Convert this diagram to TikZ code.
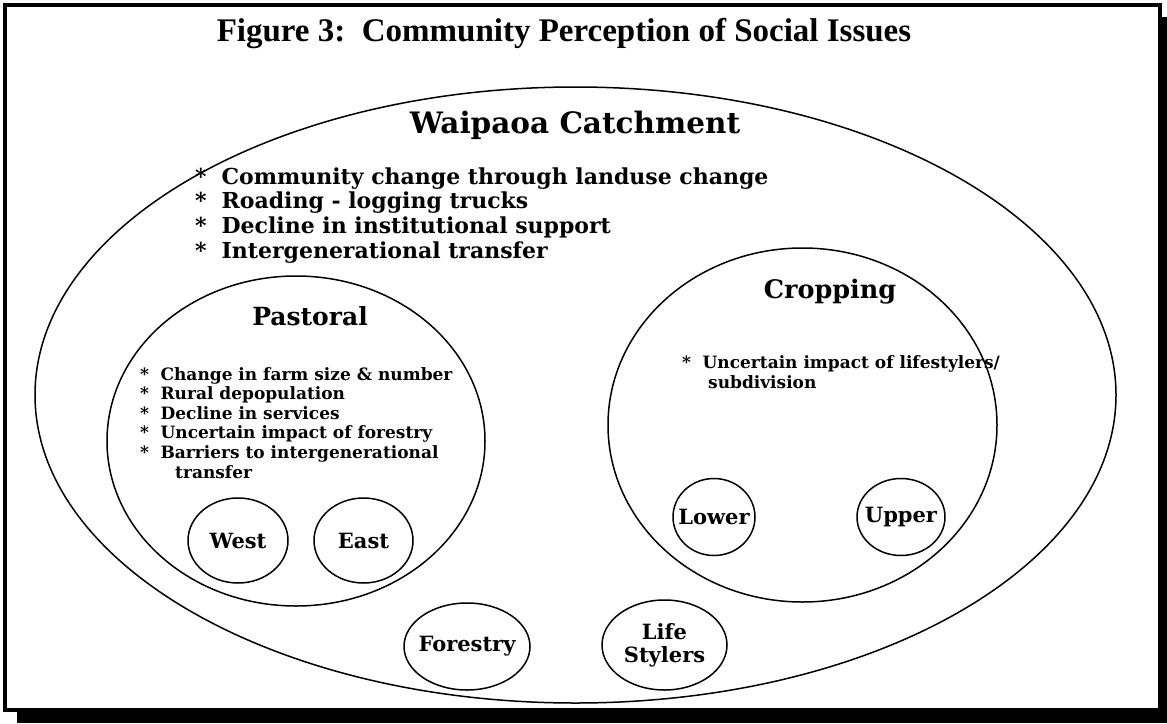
\documentclass[tikz,border=0pt]{standalone}
\usepackage{fontspec}
\usepackage{tikz}
\usetikzlibrary{shapes.geometric}

% Times-like heading, wide serif for everything inside the frame
\newfontfamily\headfont{Liberation Serif}
\newfontfamily\bodyfont{DejaVu Serif}
\newcommand{\bul}{\makebox[1.2em][l]{*}}

\begin{document}
\begin{tikzpicture} [x=1pt, y=-1pt,
  ring/.style={draw, ellipse, line width=1.5pt, inner sep=0pt},
  grouptext/.style={font=\bodyfont\bfseries\fontsize{21}{23}\selectfont, align=center},
  area/.style={ring, label={[grouptext]center:#1}},
  head/.style={anchor=base, font=\bodyfont\bfseries\fontsize{#1}{#1}\selectfont},
  issue/.style={anchor=base west, inner sep=0pt, font=\bodyfont\bfseries\fontsize{#1}{#1}\selectfont}]

\useasboundingbox (0,0) rectangle (1167,723);

% shadow and frame
\fill (17,17) rectangle (1167,723);
\draw [line width=4pt, fill=white] (5,5) rectangle (1160,710);

\node [anchor=base, font=\headfont\bfseries\fontsize{33}{33}\selectfont] (heading) at (564,41)
  {Figure 3:\ \ Community Perception of Social Issues};

% the catchment and its two land uses
\node [ring, minimum width=1081pt, minimum height=616pt] (catchment) at (575.5,395) {};
\node [ring, minimum width=378pt, minimum height=330pt] (pastoral) at (296,441) {};
\node [ring, minimum width=389pt, minimum height=354pt] (cropping) at (802.5,425) {};

\node [head=29.5] (catchment title) at (575,133) {Waipaoa Catchment};
\node [head=25] (pastoral title) at (310,325) {Pastoral};
\node [head=25.5] (cropping title) at (830,298) {Cropping};

\foreach \txt [count=\i] in {Community change through landuse change,
    Roading - logging trucks, Decline in institutional support,
    Intergenerational transfer}
  \node [issue=22] (catch\i) at (195,{184+24.7*(\i-1)}) {\bul\txt};

\foreach \txt [count=\i] in {Change in farm size \& number, Rural depopulation,
    Decline in services, Uncertain impact of forestry,
    Barriers to intergenerational}
  \node [issue=17] (past\i) at (140,{380+19.6*(\i-1)}) {\bul\txt};
\node [issue=17] (past6) at (175,478) {transfer};

\node [issue=17] (crop1) at (682,368) {\bul Uncertain impact of lifestylers/};
\node [issue=17] (crop2) at (708,388) {subdivision};

% districts and other groups
\node [area=West, minimum width=100pt, minimum height=85pt] (west) at (238,540.5) {};
\node [area=East, minimum width=99pt, minimum height=85pt] (east) at (363.5,540.5) {};
\node [area=Lower, minimum width=82pt, minimum height=77pt] (lower) at (714,517) {};
\node [area=Upper, minimum width=88pt, minimum height=77pt] (upper) at (901,517) {};
\node [area=Forestry, minimum width=126pt, minimum height=87pt] (forestry) at (467,646.5) {};
\node [area={Life\\Stylers}, minimum width=125pt, minimum height=90pt] (lifestylers) at (664.5,645) {};

\end{tikzpicture}
\end{document}
